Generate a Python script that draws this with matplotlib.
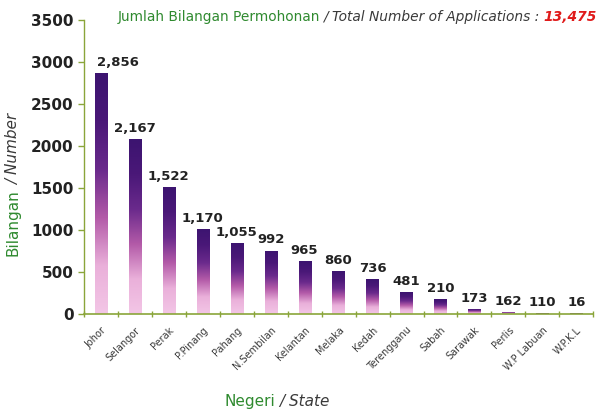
import numpy as np
import matplotlib.pyplot as plt
from matplotlib.colors import LinearSegmentedColormap

negeri = ['Johor', 'Selangor', 'Perak', 'P.Pinang', 'Pahang', 'N.Sembilan', 'Kelantan',
          'Melaka', 'Kedah', 'Terengganu', 'Sabah', 'Sarawak', 'Perlis', 'W.P Labuan', 'W.P.K.L']
# bar heights as drawn in the picture
tinggi_bar = [2870, 2080, 1515, 1015, 840, 755, 630, 510, 415, 260, 175, 60, 25, 8, 8]
# labels printed above the bars
label_nilai = [2856, 2167, 1522, 1170, 1055, 992, 965, 860, 736, 481, 210, 173, 162, 110, 16]
jumlah = 13475
y_ticks = [0, 500, 1000, 1500, 2000, 2500, 3000, 3500]

hijau = '#2f8a2f'
kelabu = '#3a3a3a'
paksi = '#8aa53a'

cmap = LinearSegmentedColormap.from_list(
    'ungu', ['#f3c6e6', '#eab0da', '#b35aa8', '#6a2a8c', '#4a1878', '#3c1470'])
grad = np.linspace(0, 1, 256).reshape(-1, 1)

fig = plt.figure(figsize=(6.03, 4.11), dpi=100)
ax = fig.add_axes([0.139, 0.236, 0.845, 0.715])

x = np.arange(len(negeri))
lebar = 0.36
bars = ax.bar(x, tinggi_bar, width=lebar, color='none', edgecolor='none')
for b in bars:
    x0, y0 = b.get_x(), b.get_y()
    im = ax.imshow(grad, cmap=cmap, origin='lower', aspect='auto',
                   extent=[x0, x0 + b.get_width(), y0, y0 + b.get_height()], zorder=2)
    im.set_clip_path(b)

for i, (h, v) in enumerate(zip(tinggi_bar, label_nilai)):
    dx = 12 if i == 0 else 0
    ax.annotate(f'{v:,}', (x[i], h), xytext=(dx, 3), textcoords='offset points',
                ha='center', va='bottom', fontsize=9.5, fontweight='bold', color='#222222')

ax.set_xlim(-0.5, len(negeri) - 0.5)
ax.set_ylim(0, 3500)
ax.set_yticks(y_ticks)
ax.set_yticklabels([str(t) for t in y_ticks], fontsize=11, fontweight='bold', color='#222222')
ax.tick_params(axis='y', length=4, color=paksi, width=1)

ax.set_xticks(x)
ax.set_xticklabels(negeri, rotation=45, ha='right', rotation_mode='anchor', fontsize=7, color=kelabu)
ax.tick_params(axis='x', length=0, pad=8)
ax.set_xticks(np.arange(-0.5, len(negeri), 1), minor=True)
ax.tick_params(axis='x', which='minor', length=4, direction='inout', color=paksi, width=1)

for s in ['top', 'right']:
    ax.spines[s].set_visible(False)
ax.spines['left'].set_color(paksi)
ax.spines['bottom'].set_color(paksi)
ax.spines['left'].set_linewidth(1)
ax.spines['bottom'].set_linewidth(1.2)

fig.canvas.draw()
r = fig.canvas.get_renderer()
W, H = fig.bbox.width, fig.bbox.height

# title pieces
fs = 9.9
t1 = fig.text(0.195, 0.958, 'Jumlah Bilangan Permohonan', color=hijau, fontsize=fs, va='center')
bb = t1.get_window_extent(r)
t2 = fig.text((bb.x1 + 3) / W, 0.958, '/ Total Number of Applications : ',
              color=kelabu, fontsize=fs, style='italic', va='center')
bb = t2.get_window_extent(r)
fig.text(bb.x1 / W, 0.958, f'{jumlah:,}', color='#e01a1a', fontsize=fs,
         style='italic', fontweight='bold', va='center')

# y label
yl1 = fig.text(0.022, 1 - 256 / 411, 'Bilangan', color=hijau, fontsize=11, rotation=90,
               va='bottom', ha='center')
bb = yl1.get_window_extent(r)
fig.text(0.022, (bb.y1 + 4) / H, '/ Number', color=kelabu, fontsize=11, rotation=90,
         style='italic', va='bottom', ha='center')

# x label
xl1 = fig.text(0.372, 0.022, 'Negeri', color=hijau, fontsize=11, va='center')
bb = xl1.get_window_extent(r)
fig.text((bb.x1 + 4) / W, 0.022, '/ State', color=kelabu, fontsize=11, style='italic', va='center')

fig.savefig('out.png', dpi=100)
